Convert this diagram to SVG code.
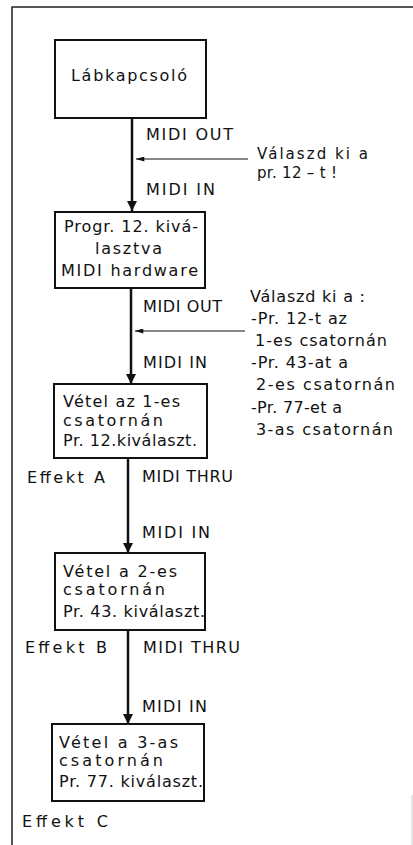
<svg xmlns="http://www.w3.org/2000/svg" width="413" height="845" viewBox="0 0 413 845">
<style>
text{font-family:"DejaVu Sans","Liberation Sans",sans-serif;font-size:16px;fill:#111}
.sm{font-size:15px}
.box{fill:#fff;stroke:#111;stroke-width:2}
.main{stroke:#111;stroke-width:2.5;fill:none}
.thin{stroke:#111;stroke-width:1;fill:none}
.frame{stroke:#222;stroke-width:1.5;fill:none}
</style>
<defs>
<marker id="big" viewBox="0 0 10 10" refX="10" refY="5" markerWidth="10" markerHeight="10" markerUnits="userSpaceOnUse" orient="auto"><path d="M0,0 L10,5 L0,10 Z" fill="#111"/></marker>
<marker id="small" viewBox="0 0 10 6" refX="10" refY="3" markerWidth="10" markerHeight="5" markerUnits="userSpaceOnUse" orient="auto"><path d="M0,0 L10,3 L0,6 Z" fill="#111"/></marker>
</defs>
<rect width="413" height="845" fill="#fff"/>
<g id="frame">
<path class="frame" d="M12,845 V7 H413"/>
<path d="M412,795 V845" stroke="#ccc" stroke-width="1"/>
</g>
<g id="connectors">
<line class="main" x1="132" y1="118" x2="132" y2="211" marker-end="url(#big)"/>
<line class="main" x1="131" y1="288" x2="131" y2="384" marker-end="url(#big)"/>
<line class="main" x1="128" y1="458" x2="128" y2="553" marker-end="url(#big)"/>
<line class="main" x1="128" y1="630" x2="128" y2="724" marker-end="url(#big)"/>
<line class="thin" x1="248" y1="159" x2="136" y2="159" marker-end="url(#small)"/>
<line class="thin" x1="245" y1="331" x2="135" y2="331" marker-end="url(#small)"/>
<text x="146" y="140" textLength="87">MIDI OUT</text>
<text x="146" y="195" textLength="69">MIDI IN</text>
<text x="143" y="312" textLength="79">MIDI OUT</text>
<text x="143" y="368" textLength="64">MIDI IN</text>
<text x="142" y="482" textLength="91">MIDI THRU</text>
<text x="142" y="538" textLength="68">MIDI IN</text>
<text x="143" y="653" textLength="97">MIDI THRU</text>
<text x="142" y="712" textLength="65">MIDI IN</text>
</g>
<g id="note1">
<text class="sm" x="257" y="159" textLength="111">Válaszd ki a</text>
<text class="sm" x="257" y="178" textLength="80">pr. 12 – t !</text>
</g>
<g id="note2">
<text x="250" y="302" textLength="115">Válaszd ki a :</text>
<text x="251" y="324" textLength="96">-Pr. 12-t az</text>
<text x="255" y="346" textLength="132">1-es csatornán</text>
<text x="251" y="368" textLength="97">-Pr. 43-at a</text>
<text x="256" y="390" textLength="139">2-es csatornán</text>
<text x="251" y="413" textLength="91">-Pr. 77-et a</text>
<text x="256" y="435" textLength="137">3-as csatornán</text>
</g>
<g id="node1">
<rect class="box" x="55" y="40" width="151" height="78"/>
<text x="71" y="81" textLength="116">Lábkapcsoló</text>
</g>
<g id="node2">
<rect class="box" x="55" y="212" width="150" height="76"/>
<text x="64" y="232" textLength="134">Progr. 12. kivá-</text>
<text x="95" y="254" textLength="67">lasztva</text>
<text x="61" y="276" textLength="137">MIDI hardware</text>
</g>
<g id="node3">
<rect class="box" x="54" y="384" width="153" height="74"/>
<text x="63" y="407" textLength="117">Vétel az 1-es</text>
<text x="63" y="426" textLength="100">csatornán</text>
<text x="63" y="446" textLength="134">Pr. 12.kiválaszt.</text>
</g>
<g id="effektA"><text x="27" y="483" textLength="78">Effekt A</text></g>
<g id="node4">
<rect class="box" x="55" y="553" width="150" height="77"/>
<text x="63" y="577" textLength="114">Vétel a 2-es</text>
<text x="63" y="595" textLength="102">csatornán</text>
<text x="63" y="617" textLength="142">Pr. 43. kiválaszt.</text>
</g>
<g id="effektB"><text x="25" y="653" textLength="82">Effekt B</text></g>
<g id="node5">
<rect class="box" x="52" y="724" width="152" height="77"/>
<text x="59" y="748" textLength="119">Vétel a 3-as</text>
<text x="59" y="766" textLength="104">csatornán</text>
<text x="59" y="787" textLength="144">Pr. 77. kiválaszt.</text>
</g>
<g id="effektC"><text x="22" y="827" textLength="86">Effekt C</text></g>
</svg>
